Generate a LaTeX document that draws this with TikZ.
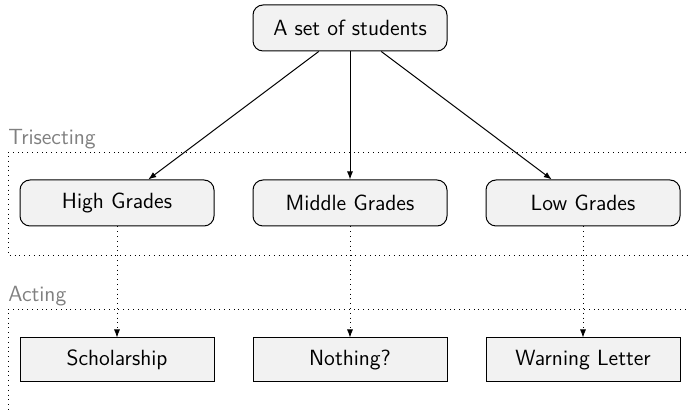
\documentclass[tikz,border=0pt]{standalone}
\usetikzlibrary{arrows.meta}
\renewcommand{\familydefault}{\sfdefault}
\begin{document}
\begin{tikzpicture}[
    x=0.5pt, y=-0.5pt,
    every node/.style={font=\sffamily\fontsize{11}{13}\selectfont},
    setbox/.style={draw, fill=gray!10, rounded corners=5pt, line width=0.5pt,
      minimum width=97pt, minimum height=23pt, inner sep=0pt},
    actbox/.style={draw, fill=gray!10, line width=0.5pt,
      minimum width=97pt, minimum height=22pt, inner sep=0pt},
    split/.style={-{Latex[length=4pt,width=3pt]}, line width=0.5pt},
    act/.style={dotted, -{Latex[length=4pt,width=3pt]}, line width=0.4pt},
    stage/.style={dotted, line width=0.4pt},
    stagelabel/.style={text=gray, anchor=base west, inner sep=0pt}
  ]
  \useasboundingbox (0,0) rectangle (690,410);
  \clip (0,0) rectangle (690,410);

  % stage frames
  \draw[stage] (700,152) -- (8,152) -- (8,255) -- (700,255);
  \node[stagelabel] (trisect) at (8,145) {Trisecting};
  \draw[stage] (700,309) -- (8,309) -- (8,420);
  \node[stagelabel] (acting) at (8,302) {Acting};

  % nodes
  \node[setbox] (all) at (350,28) {A set of students};
  \node[setbox] (high) at (117,203) {High Grades};
  \node[setbox] (mid) at (350,203) {Middle Grades};
  \node[setbox] (low) at (583,203) {Low Grades};
  \node[actbox] (schol) at (117,360) {Scholarship};
  \node[actbox] (none) at (350,360) {Nothing?};
  \node[actbox] (warn) at (583,360) {Warning Letter};

  % connectors
  \draw[split] (all) -- (high);
  \draw[split] (all) -- (mid);
  \draw[split] (all) -- (low);
  \draw[act] (high) -- (schol);
  \draw[act] (mid) -- (none);
  \draw[act] (low) -- (warn);
\end{tikzpicture}
\end{document}
